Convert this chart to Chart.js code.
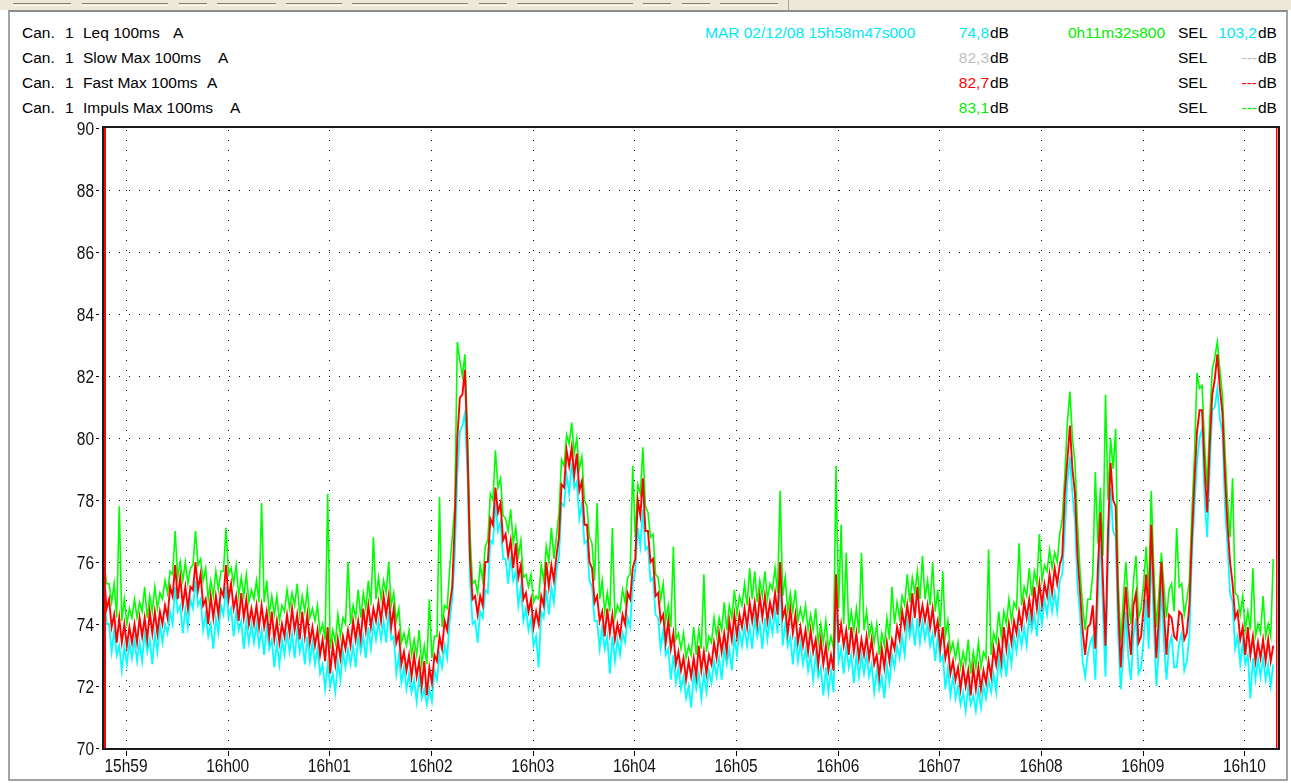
<!DOCTYPE html>
<html>
<head>
<meta charset="utf-8">
<script src="https://cdn.jsdelivr.net/npm/chart.js@4.4.1/dist/chart.umd.min.js"></script>
<style>
html,body{margin:0;padding:0;background:#fff;width:1291px;height:783px;overflow:hidden;font-family:"Liberation Sans",Arial,sans-serif;}
#strip{position:absolute;left:0;top:0;width:1291px;height:10px;background:#ece9d8;}
.tab{position:absolute;top:3px;height:1px;border-top:1px solid #858275;border-bottom:1px solid #fbfaf5;}
#sep{position:absolute;left:788px;top:0;width:1px;height:10px;background:#a9a695;}
#panel{position:absolute;left:8px;top:10px;width:1280px;height:771px;box-sizing:border-box;border:2px solid #a3a3a3;border-top-color:#8c8c8c;}
.t{position:absolute;font-size:15.5px;line-height:16px;white-space:pre;color:#000;}
.r{position:absolute;font-size:15.5px;line-height:16px;white-space:pre;color:#000;text-align:right;}
#c{position:absolute;left:0;top:0;}
</style>
</head>
<body>
<div id="strip">
  <div class="tab" style="left:13px;width:58px"></div>
  <div class="tab" style="left:82px;width:86px"></div>
  <div class="tab" style="left:179px;width:28px"></div>
  <div class="tab" style="left:217px;width:59px"></div>
  <div class="tab" style="left:286px;width:56px"></div>
  <div class="tab" style="left:352px;width:116px"></div>
  <div class="tab" style="left:479px;width:28px"></div>
  <div class="tab" style="left:517px;width:116px"></div>
  <div class="tab" style="left:643px;width:28px"></div>
  <div class="tab" style="left:682px;width:28px"></div>
  <div class="tab" style="left:720px;width:58px"></div>
  <div id="sep"></div>
</div>
<div id="panel"></div>
<div id="legend"></div>
<canvas id="c" width="1291" height="783"></canvas>

<script>
// ---------------- data ----------------
const channelName = 'Can.';
const channelNumber = '1';
const seriesNames = ['Leq 100ms', 'Slow Max 100ms', 'Fast Max 100ms', 'Impuls Max 100ms'];
const weighting = 'A';
const startStamp = 'MAR 02/12/08 15h58m47s000';
const durationStamp = '0h11m32s800';
const maxLabels = ['74,8', '82,3', '82,7', '83,1'];
const selLabels = ['103,2', '---', '---', '---'];

const sampleStepSeconds = 1.5;        // spacing of the read samples
const totalSeconds = 692.8;           // 11 min 32.8 s
const xTickSeconds = [13, 73, 133, 193, 253, 313, 373, 433, 493, 553, 613, 673];
const xTickLabels = ['15h59','16h00','16h01','16h02','16h03','16h04','16h05','16h06','16h07','16h08','16h09','16h10'];
const yTickValues = [70, 72, 74, 76, 78, 80, 82, 84, 86, 88, 90];

const leqValues = [
 75.4,74.0,74.0,73.1,73.8,73.0,73.3,72.5,73.3,72.7,73.4,72.9,73.5,72.8,73.4,72.8,73.7,73.1,73.5,72.7,
 73.7,73.1,74.0,73.4,74.0,73.7,74.4,74.0,75.2,74.4,74.6,73.7,74.5,73.9,74.8,74.5,75.4,74.6,74.8,73.8,
 74.3,73.6,74.0,73.2,74.2,73.7,74.6,74.3,75.2,74.2,74.5,73.6,74.4,73.8,74.1,73.2,74.1,73.4,74.0,73.4,
 74.0,73.3,73.8,73.0,73.9,73.2,73.5,72.6,73.4,72.7,73.5,73.0,73.7,73.1,73.7,72.9,73.8,73.1,73.5,72.7,
 73.6,72.8,73.4,72.7,73.2,72.4,72.7,71.9,72.7,72.0,72.4,71.8,72.8,72.2,73.1,72.6,73.2,72.7,73.3,72.6,
 73.6,73.1,73.6,72.9,73.9,73.2,74.0,73.5,74.1,73.5,74.1,73.4,74.4,73.5,73.6,72.4,73.0,72.1,72.6,71.9,
 72.4,71.8,72.2,71.5,72.3,71.6,71.9,71.4,71.9,71.5,72.5,72.2,73.0,72.6,73.3,72.9,74.1,74.8,76.2,78.8,
 80.2,80.4,80.8,78.8,75.4,74.0,74.1,73.4,74.4,74.2,75.1,75.0,76.7,76.6,77.9,77.0,77.3,76.1,76.1,75.3,
 76.2,75.4,75.7,74.6,75.2,74.1,74.5,73.8,74.2,73.3,73.6,72.6,74.4,74.2,75.1,74.3,75.2,74.7,75.7,76.2,
 77.9,77.8,78.8,78.2,79.2,78.4,78.6,77.4,77.9,76.6,76.7,75.4,75.2,74.1,74.1,73.2,73.9,73.2,73.6,72.4,
 73.6,72.8,73.5,73.0,73.7,73.4,74.2,73.9,75.3,75.7,77.1,76.5,77.7,76.4,76.5,75.4,75.5,74.3,74.2,73.2,
 73.8,73.0,73.2,72.2,73.0,72.1,72.6,71.9,72.3,71.6,72.0,71.3,72.4,71.9,72.4,71.6,72.4,71.8,72.5,72.1,
 72.8,72.3,72.9,72.2,73.2,72.7,73.2,72.5,73.6,73.0,73.8,73.3,73.9,73.3,73.9,73.2,74.2,73.6,74.0,73.2,
 74.2,73.5,74.2,73.7,74.4,73.7,75.5,73.3,74.0,73.3,73.6,72.7,73.6,72.8,73.4,72.7,73.2,72.5,73.0,72.2,
 73.0,72.3,72.6,71.7,72.6,71.8,72.5,71.8,75.0,72.8,73.2,72.4,73.3,72.6,73.0,72.1,73.0,72.3,73.0,72.4,
 73.0,72.3,72.7,71.8,72.5,71.9,72.3,71.6,72.7,72.1,73.0,72.6,73.3,72.9,73.6,73.0,74.1,73.6,74.1,73.3,
 74.2,73.4,74.1,73.5,74.0,73.3,73.7,72.8,73.6,72.8,73.0,71.9,72.6,71.7,72.3,71.6,72.0,71.4,71.8,71.2,
 72.0,71.4,71.7,71.2,71.9,71.3,72.0,71.6,72.2,71.8,72.4,71.8,72.9,72.4,73.0,72.3,73.3,72.7,73.6,73.1,
 73.8,73.3,73.9,73.3,74.3,73.8,74.3,73.6,74.6,74.0,74.8,74.3,75.0,74.4,75.0,74.4,75.4,75.6,77.0,78.6,
 79.4,78.2,77.3,75.2,74.3,72.8,72.3,73.0,73.4,73.6,72.2,74.8,76.9,74.4,72.3,76.0,78.4,77.0,76.8,73.6,
 71.9,73.0,74.4,72.9,72.2,73.6,74.2,72.4,72.6,73.5,74.8,73.2,76.4,74.0,72.0,73.2,75.2,73.4,72.2,73.3,
 73.6,72.6,72.6,73.4,73.7,72.5,72.8,73.6,76.2,77.8,79.2,80.0,80.3,78.0,76.8,79.0,80.9,81.0,81.6,80.6,
 80.2,77.8,76.5,75.0,74.7,73.2,73.6,72.7,73.4,72.7,73.0,71.6,72.9,72.2,72.9,72.3,72.9,72.2,72.7,72.0,
 72.7
];

const fastMaxValues = [
 75.6,74.5,74.8,73.9,74.3,73.4,74.2,73.4,74.0,73.3,73.9,73.4,74.0,73.4,74.2,73.6,74.2,73.5,74.4,73.7,
 74.4,73.7,74.4,74.0,74.6,74.2,75.2,74.9,75.9,74.8,75.5,74.6,75.2,74.5,75.2,75.1,76.0,75.1,75.6,74.6,
 74.8,74.0,74.9,74.2,74.9,74.3,75.1,74.9,75.9,74.8,75.3,74.5,74.9,74.1,75.0,74.2,74.8,74.0,74.5,74.0,
 74.6,73.9,74.6,73.9,74.4,73.6,74.4,73.5,74.1,73.4,74.0,73.6,74.3,73.7,74.5,73.8,74.3,73.5,74.4,73.6,
 74.3,73.4,73.9,73.3,73.8,73.0,73.5,72.8,73.9,72.4,73.3,72.7,73.5,72.9,73.6,73.2,73.8,73.3,74.1,73.5,
 74.1,73.5,74.5,73.8,74.6,73.9,74.5,74.1,74.7,74.1,74.9,74.3,74.9,73.9,74.5,73.4,73.7,72.7,73.1,72.5,
 73.0,72.3,73.0,72.3,72.8,72.0,72.8,71.7,72.6,72.1,73.0,72.8,73.6,73.2,74.1,73.8,74.6,75.2,77.3,80.0,
 81.3,81.4,82.2,79.6,76.1,74.8,74.9,74.3,74.9,74.6,76.0,76.0,77.4,77.2,78.4,77.6,77.9,76.7,76.9,76.2,
 76.7,75.8,76.6,75.5,75.9,74.8,75.0,74.4,74.8,73.9,74.4,74.0,74.9,74.6,76.0,75.2,75.9,75.4,76.2,76.8,
 78.5,78.4,79.6,79.1,79.7,78.8,79.5,78.3,78.6,77.2,77.2,76.0,75.8,74.7,74.9,74.1,74.4,73.6,74.5,73.7,
 74.3,73.5,74.0,73.6,74.3,74.0,75.0,74.8,75.8,76.1,78.0,77.5,78.7,77.0,77.0,76.0,76.1,74.9,75.0,74.1,
 74.3,73.4,74.1,73.2,73.7,72.7,73.1,72.5,72.9,72.2,72.8,72.3,72.9,72.3,73.3,72.5,73.1,72.4,73.0,72.7,
 73.4,72.9,73.7,73.1,73.7,73.1,74.1,73.5,74.3,73.6,74.3,73.9,74.5,73.9,74.7,74.1,74.7,74.0,74.9,74.2,
 74.9,74.1,74.7,74.3,75.0,74.3,76.0,74.2,74.5,73.7,74.5,73.7,74.3,73.4,73.9,73.3,73.8,73.1,73.8,73.1,
 73.5,72.7,73.5,72.7,73.3,72.5,73.0,72.5,75.6,73.4,74.0,73.3,73.8,73.0,73.9,73.1,73.7,72.9,73.5,73.0,
 73.6,72.9,73.5,72.7,73.0,72.3,73.2,72.6,73.4,72.8,73.5,73.2,73.9,73.5,74.4,73.9,74.6,74.0,75.0,74.2,
 75.2,74.1,74.6,74.1,74.6,73.9,74.5,73.7,74.1,73.2,73.9,72.9,73.3,72.4,72.8,72.2,72.6,71.9,72.6,72.0,
 72.5,71.7,72.6,71.9,72.6,71.9,72.5,72.1,72.8,72.3,73.2,72.7,73.4,72.8,73.9,73.2,74.0,73.4,74.1,73.7,
 74.4,73.9,74.7,74.2,74.8,74.2,75.2,74.5,75.3,74.6,75.3,74.9,75.6,75.0,75.8,75.3,75.9,76.2,78.2,79.3,
 80.4,79.0,78.2,76.2,75.0,73.8,73.0,73.9,74.0,74.6,73.2,75.8,77.6,75.4,73.3,77.0,79.2,78.0,77.8,74.6,
 72.6,74.0,75.2,73.9,73.0,74.6,75.0,73.4,73.6,74.5,75.6,74.2,77.2,75.0,72.9,74.2,76.0,74.4,73.0,74.3,
 74.2,73.6,73.5,74.4,74.3,73.5,73.7,74.6,76.8,78.6,80.2,80.9,80.9,79.0,77.6,79.8,81.4,81.9,82.7,81.6,
 80.8,78.8,77.2,76.0,75.3,74.2,74.4,73.5,73.9,73.0,73.9,73.0,73.6,72.8,73.4,72.9,73.5,72.8,73.5,72.8,
 73.3
];

const impulsMaxValues = [
 76.0,75.3,75.3,74.7,75.3,74.2,77.8,74.1,74.8,74.0,74.5,74.2,74.8,74.2,74.7,74.4,75.2,74.2,74.9,74.4,
 75.2,74.5,75.0,74.8,75.4,75.0,75.7,75.6,77.0,75.5,76.0,75.4,76.0,75.3,75.8,75.9,77.0,75.9,76.1,75.4,
 75.8,74.8,75.4,74.9,75.7,75.1,75.7,75.7,77.1,75.6,75.8,75.3,75.9,74.9,75.5,74.9,75.6,74.7,75.1,74.8,
 75.4,74.7,77.9,74.7,75.4,74.3,74.9,74.3,74.9,74.1,74.6,74.4,75.1,74.5,75.0,74.6,75.3,74.3,74.9,74.4,
 75.1,74.2,74.5,74.1,74.6,73.7,74.0,73.5,78.2,73.2,73.8,73.4,74.3,73.6,74.2,74.0,76.0,74.0,74.6,74.2,
 75.1,74.2,75.0,74.5,75.4,74.6,76.8,74.8,75.5,74.8,75.4,75.0,76.0,74.6,75.0,74.1,74.5,73.4,73.7,73.3,
 73.8,73.0,73.5,73.0,73.8,72.7,73.3,72.7,74.8,72.9,73.6,73.6,78.1,73.9,74.6,74.5,75.8,76.8,77.8,83.1,
 82.5,82.0,82.7,80.2,76.9,75.3,75.4,75.0,75.9,75.4,76.5,76.7,78.2,78.0,79.6,78.4,78.7,77.5,77.4,77.0,
 77.7,76.6,77.1,76.2,76.7,75.5,75.6,75.2,75.6,74.7,74.9,74.8,75.9,75.4,76.5,76.0,77.1,76.1,76.8,77.6,
 79.3,79.1,80.1,79.8,80.5,79.5,80.0,79.0,79.4,78.0,77.8,76.8,76.6,75.4,77.9,74.8,75.4,74.4,75.0,74.4,
 77.1,74.2,74.6,74.4,75.1,74.7,75.5,75.6,79.1,76.8,78.5,78.2,79.7,77.8,77.6,76.8,76.9,75.6,75.5,74.8,
 75.3,74.1,74.6,73.9,76.5,73.5,73.7,73.2,73.7,72.9,73.3,73.0,73.9,73.0,73.8,73.2,75.6,73.1,73.6,73.4,
 74.2,73.6,74.2,73.8,74.7,73.8,74.6,74.2,75.1,74.3,74.9,74.6,75.3,74.6,75.8,74.8,75.7,74.7,75.4,74.9,
 75.7,74.8,75.3,75.1,75.8,75.0,78.3,74.9,75.5,74.4,75.0,74.4,75.1,74.1,74.5,74.1,74.6,73.8,74.3,73.8,
 74.5,73.4,74.0,73.4,74.1,73.2,73.6,73.2,79.1,74.5,77.2,74.0,76.3,73.8,74.4,73.8,74.5,73.7,76.3,73.8,
 74.4,73.6,74.0,73.4,74.0,73.0,73.7,73.3,74.2,73.5,75.2,74.0,74.7,74.2,74.9,74.6,75.6,74.7,75.5,75.0,
 75.7,74.8,76.2,74.8,75.4,74.6,76.0,74.4,75.1,73.9,75.7,73.6,74.1,73.1,73.4,72.9,73.4,72.6,73.1,72.7,
 73.5,72.4,73.1,72.6,73.4,72.6,73.1,72.9,76.4,73.0,73.7,73.4,74.4,73.6,74.4,74.0,74.8,74.1,74.7,74.5,
 76.6,74.6,75.2,74.9,75.8,74.9,75.7,75.3,76.9,75.4,75.9,75.7,76.4,75.8,76.3,76.0,76.9,77.4,78.8,80.5,
 81.5,80.0,79.2,77.2,75.7,74.6,73.8,74.8,74.8,75.6,78.9,76.6,78.4,76.2,81.4,78.0,80.0,79.0,80.3,75.4,
 73.4,74.8,76.0,74.7,74.0,75.4,76.2,74.2,74.5,75.3,76.5,75.0,78.3,75.8,73.9,75.0,76.3,75.2,74.2,75.1,
 75.3,74.4,77.1,75.2,75.3,74.3,74.8,75.4,77.6,79.4,82.1,81.6,81.7,79.8,78.4,80.6,82.2,82.6,83.1,82.2,
 81.4,79.6,78.0,76.8,78.7,75.0,74.9,74.3,74.9,73.8,74.4,73.8,75.8,73.6,74.0,73.7,74.9,73.6,74.0,73.6,
 76.1
];

// ---------------- header text ----------------
const colCyan = '#00e8f4', colGray = '#c0c0c0', colRed = '#ff0000', colGreen = '#00ee00';
const valueColors = [colCyan, colGray, colRed, colGreen];
const aLeft = [173, 218, 207, 230];
const rowTops = [25, 50, 75, 100];
(function buildHeader(){
  const L = document.getElementById('legend');
  function add(cls, text, css, color){
    const s = document.createElement('div');
    s.className = cls; s.textContent = text; s.style.cssText = css;
    if (color) s.style.color = color;
    L.appendChild(s);
  }
  seriesNames.forEach((name, i) => {
    const top = rowTops[i];
    add('t', channelName, `left:22px;top:${top}px`);
    add('t', channelNumber, `left:65px;top:${top}px`);
    add('t', name, `left:83px;top:${top}px`);
    add('t', weighting, `left:${aLeft[i]}px;top:${top}px`);
    add('r', maxLabels[i], `right:${1291-989}px;top:${top}px`, valueColors[i]);
    add('t', 'dB', `left:990px;top:${top}px`);
    add('t', 'SEL', `left:1178px;top:${top}px`);
    add('r', selLabels[i], `right:${1291-1257}px;top:${top}px`, i === 0 ? colCyan : valueColors[i]);
    add('t', 'dB', `left:1258px;top:${top}px`);
  });
  add('t', startStamp, `left:705px;top:${rowTops[0]}px`, colCyan);
  add('t', durationStamp, `left:1068px;top:${rowTops[0]}px`, colGreen);
})();

// ---------------- chart ----------------
const toPoints = arr => arr.map((v, i) => ({ x: i * sampleStepSeconds, y: v }));

function drawNarrowText(ctx, text, x, y, align) {
  ctx.save();
  ctx.translate(x, y);
  ctx.scale(0.86, 1);
  ctx.textAlign = align;
  ctx.textBaseline = 'alphabetic';
  ctx.fillText(text, 0, 0);
  ctx.restore();
}

const framePlugin = {
  id: 'frame',
  beforeDatasetsDraw(chart) {
    const { ctx, chartArea: a, scales: { x, y } } = chart;
    ctx.save();
    ctx.strokeStyle = '#000';
    ctx.lineWidth = 1;
    ctx.setLineDash([1, 9]);
    ctx.lineDashOffset = -5;
    yTickValues.forEach(v => {
      if (v === 70 || v === 90) return;
      const py = Math.round(y.getPixelForValue(v)) + 0.5;
      ctx.beginPath(); ctx.moveTo(a.left, py); ctx.lineTo(a.right, py); ctx.stroke();
    });
    ctx.lineDashOffset = -2;
    xTickSeconds.forEach(v => {
      const px = Math.round(x.getPixelForValue(v)) + 0.5;
      ctx.beginPath(); ctx.moveTo(px, a.top); ctx.lineTo(px, a.bottom); ctx.stroke();
    });
    ctx.restore();
  },
  afterDatasetsDraw(chart) {
    const { ctx, chartArea: a, scales: { x, y } } = chart;
    ctx.save();
    ctx.setLineDash([]);
    ctx.strokeStyle = '#1a1a1a';
    ctx.lineWidth = 2;
    ctx.strokeRect(a.left - 1, a.top - 1, a.right - a.left + 2, a.bottom - a.top + 2);
    ctx.fillStyle = '#ff0000';
    ctx.fillRect(a.left, a.top, 2, a.bottom - a.top);
    ctx.fillRect(a.right - 2, a.top, 1.5, a.bottom - a.top);
    ctx.fillStyle = '#000';
    yTickValues.forEach(v => {
      const py = Math.round(y.getPixelForValue(v));
      ctx.fillRect(a.left - 8, py, 3, 1);
    });
    xTickSeconds.forEach(v => {
      const px = Math.round(x.getPixelForValue(v));
      ctx.fillRect(px, a.bottom + 3, 1, 5);
    });
    ctx.fillStyle = '#111';
    ctx.font = '18px "Liberation Sans", Arial, sans-serif';
    yTickValues.forEach(v => {
      const py = y.getPixelForValue(v);
      drawNarrowText(ctx, String(v), a.left - 10, py + 6.5, 'right');
    });
    xTickSeconds.forEach((v, i) => {
      const px = x.getPixelForValue(v);
      drawNarrowText(ctx, xTickLabels[i], px, a.bottom + 24, 'center');
    });
    ctx.restore();
  }
};

new Chart(document.getElementById('c').getContext('2d'), {
  type: 'line',
  data: {
    datasets: [
      { label: 'Fast Max', data: toPoints(fastMaxValues), borderColor: '#ff0000', borderWidth: 1.9, order: 0 },
      { label: 'Impuls Max', data: toPoints(impulsMaxValues), borderColor: '#00ff00', borderWidth: 1.6, order: 1 },
      { label: 'Leq', data: toPoints(leqValues), borderColor: '#00ffff', borderWidth: 1.8, order: 2 }
    ]
  },
  options: {
    responsive: false,
    animation: false,
    devicePixelRatio: 1,
    layout: { padding: { top: 128, right: 13, left: 0, bottom: 0 } },
    elements: { point: { radius: 0 }, line: { tension: 0, borderJoinStyle: 'miter' } },
    plugins: { legend: { display: false }, tooltip: { enabled: false } },
    scales: {
      x: {
        type: 'linear', min: 0, max: totalSeconds,
        grid: { display: false, drawTicks: false },
        border: { display: false },
        afterBuildTicks: s => { s.ticks = xTickSeconds.map(v => ({ value: v })); },
        afterFit: s => { s.height = 35; },
        ticks: { display: false }
      },
      y: {
        min: 70, max: 90,
        grid: { display: false, drawTicks: false },
        border: { display: false },
        afterBuildTicks: s => { s.ticks = yTickValues.map(v => ({ value: v })); },
        afterFit: s => { s.width = 104; },
        ticks: { display: false }
      }
    }
  },
  plugins: [framePlugin]
});
</script>
</body>
</html>
